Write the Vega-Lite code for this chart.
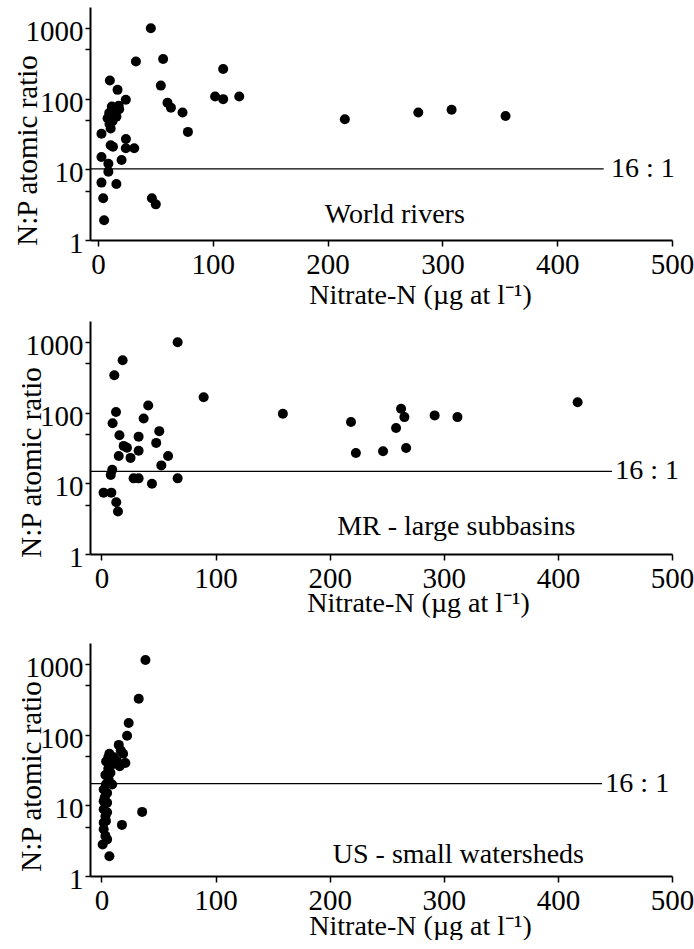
{
  "$schema": "https://vega.github.io/schema/vega-lite/v6.json",
  "background": "white",
  "padding": {"left": 12, "top": 7, "right": 0, "bottom": 0},
  "config": {
    "font": "Liberation Serif",
    "view": {"stroke": null},
    "axis": {
      "grid": false,
      "domainColor": "black",
      "domainWidth": 2,
      "tickColor": "black",
      "tickWidth": 1.5,
      "labelFont": "Liberation Serif",
      "labelFontSize": 29,
      "labelColor": "black",
      "labelFlush": false,
      "labelOverlap": false,
      "titleFont": "Liberation Serif",
      "titleFontSize": 28,
      "titleFontWeight": "normal",
      "titleColor": "black"
    },
    "axisY": {"titleFontSize": 29},
    "text": {"font": "Liberation Serif", "fontSize": 28, "color": "black"}
  },
  "datasets": {
    "p1": [
      {"nitrate": 46, "np": 1000}, {"nitrate": 33, "np": 338}, {"nitrate": 56.7, "np": 366},
      {"nitrate": 10.3, "np": 182}, {"nitrate": 17, "np": 134}, {"nitrate": 54.7, "np": 154},
      {"nitrate": 24.2, "np": 97}, {"nitrate": 60.5, "np": 88}, {"nitrate": 63.5, "np": 75},
      {"nitrate": 73.6, "np": 64}, {"nitrate": 78.3, "np": 34}, {"nitrate": 102, "np": 108},
      {"nitrate": 109, "np": 99}, {"nitrate": 109, "np": 264}, {"nitrate": 123, "np": 108},
      {"nitrate": 215, "np": 51.5}, {"nitrate": 279, "np": 64}, {"nitrate": 308, "np": 70},
      {"nitrate": 355, "np": 57}, {"nitrate": 12, "np": 78}, {"nitrate": 18.4, "np": 71},
      {"nitrate": 9.7, "np": 63}, {"nitrate": 14, "np": 59}, {"nitrate": 8.3, "np": 53},
      {"nitrate": 12.6, "np": 48}, {"nitrate": 11, "np": 38}, {"nitrate": 3, "np": 32},
      {"nitrate": 24.3, "np": 27}, {"nitrate": 11, "np": 22}, {"nitrate": 13, "np": 21},
      {"nitrate": 24.2, "np": 20}, {"nitrate": 31.5, "np": 20}, {"nitrate": 20.5, "np": 13.6},
      {"nitrate": 3, "np": 15}, {"nitrate": 9, "np": 12}, {"nitrate": 9, "np": 9.3},
      {"nitrate": 3, "np": 6.5}, {"nitrate": 16, "np": 6.2}, {"nitrate": 4.5, "np": 3.9},
      {"nitrate": 5.3, "np": 1.9}, {"nitrate": 46.9, "np": 3.9}, {"nitrate": 50.3, "np": 3.2},
      {"nitrate": 12, "np": 68}, {"nitrate": 16, "np": 56}, {"nitrate": 10, "np": 44},
      {"nitrate": 18, "np": 80}
    ],
    "p2": [
      {"nitrate": 66.8, "np": 1000}, {"nitrate": 18.6, "np": 555}, {"nitrate": 11.3, "np": 340},
      {"nitrate": 89.6, "np": 166}, {"nitrate": 12.8, "np": 103}, {"nitrate": 9.8, "np": 71},
      {"nitrate": 41, "np": 127}, {"nitrate": 37, "np": 83}, {"nitrate": 15.8, "np": 48},
      {"nitrate": 32.6, "np": 46}, {"nitrate": 50.7, "np": 55}, {"nitrate": 48, "np": 37.5},
      {"nitrate": 19.5, "np": 34}, {"nitrate": 22.4, "np": 32}, {"nitrate": 32.6, "np": 29},
      {"nitrate": 15.2, "np": 24.5}, {"nitrate": 25.5, "np": 23}, {"nitrate": 58.4, "np": 24.5},
      {"nitrate": 52.5, "np": 18}, {"nitrate": 9.5, "np": 15.6}, {"nitrate": 8.2, "np": 13.2},
      {"nitrate": 28.2, "np": 11.8}, {"nitrate": 32.6, "np": 11.8}, {"nitrate": 44.3, "np": 9.9},
      {"nitrate": 66.8, "np": 11.8}, {"nitrate": 1.9, "np": 7.4}, {"nitrate": 8.7, "np": 7.4},
      {"nitrate": 13, "np": 5.4}, {"nitrate": 14.5, "np": 4.0}, {"nitrate": 159, "np": 97},
      {"nitrate": 218.7, "np": 74}, {"nitrate": 223, "np": 27}, {"nitrate": 246.8, "np": 28.5},
      {"nitrate": 258.2, "np": 61}, {"nitrate": 262.6, "np": 114}, {"nitrate": 265.5, "np": 87},
      {"nitrate": 267, "np": 31.7}, {"nitrate": 292, "np": 92}, {"nitrate": 312, "np": 87},
      {"nitrate": 417.3, "np": 141}
    ],
    "p3": [
      {"nitrate": 38.6, "np": 1150}, {"nitrate": 32.7, "np": 324}, {"nitrate": 23.9, "np": 147},
      {"nitrate": 22.5, "np": 97}, {"nitrate": 15.2, "np": 72}, {"nitrate": 19, "np": 54},
      {"nitrate": 7, "np": 54}, {"nitrate": 21, "np": 40}, {"nitrate": 13.8, "np": 42},
      {"nitrate": 4.1, "np": 42}, {"nitrate": 9.4, "np": 38}, {"nitrate": 3.5, "np": 27},
      {"nitrate": 7.9, "np": 29}, {"nitrate": 6.4, "np": 23}, {"nitrate": 9.4, "np": 19.8},
      {"nitrate": 2, "np": 16.8}, {"nitrate": 5, "np": 15}, {"nitrate": 2, "np": 11.5},
      {"nitrate": 5, "np": 10.9}, {"nitrate": 2, "np": 8.8}, {"nitrate": 3.5, "np": 7},
      {"nitrate": 2, "np": 5.7}, {"nitrate": 2, "np": 4.6}, {"nitrate": 3.5, "np": 3.7},
      {"nitrate": 1.1, "np": 2.8}, {"nitrate": 7, "np": 1.9}, {"nitrate": 18, "np": 5.3},
      {"nitrate": 35.7, "np": 8.1}, {"nitrate": 17, "np": 60}, {"nitrate": 11, "np": 48},
      {"nitrate": 16, "np": 36}, {"nitrate": 6, "np": 33}, {"nitrate": 4, "np": 20},
      {"nitrate": 3, "np": 13}, {"nitrate": 5, "np": 8}, {"nitrate": 4, "np": 6},
      {"nitrate": 5, "np": 3.3}, {"nitrate": 6, "np": 48}
    ]
  },
  "spacing": 12,
  "vconcat": [
    {
      "width": 582, "height": 233,
      "layer": [
        {
          "data": {"name": "p1"},
          "mark": {"type": "circle", "size": 100, "color": "black", "opacity": 1},
          "encoding": {
            "x": {"field": "nitrate", "type": "quantitative",
              "scale": {"domain": [-7, 500], "nice": false, "zero": false},
              "axis": {"title": "Nitrate-N (µg at l⁻¹)", "values": [0, 100, 200, 300, 400, 500], "format": "d",
                "tickSize": 6, "labelPadding": 4, "titleX": 330, "titleY": 63, "titleBaseline": "alphabetic", "titleAlign": "center"}},
            "y": {"field": "np", "type": "quantitative",
              "scale": {"type": "log", "domain": [1, 2000], "nice": false},
              "axis": {"title": "N:P atomic ratio", "values": [1, 5, 10, 50, 100, 500, 1000], "format": "d",
                "labelExpr": "(datum.value == 1 || datum.value == 10 || datum.value == 100 || datum.value == 1000) ? datum.label : ''",
                "tickSize": 5, "labelPadding": 2, "labelOffset": 3.5,
                "titleX": -54, "titleY": 143, "titleAngle": 270, "titleBaseline": "alphabetic", "titleAlign": "center"}}
          }
        },
        {
          "data": {"values": [{"from": -7, "to": 440.5, "np": 10.2}]},
          "mark": {"type": "rule", "color": "black", "strokeWidth": 1.3},
          "encoding": {
            "x": {"field": "from", "type": "quantitative", "scale": {"domain": [-7, 500], "nice": false, "zero": false}},
            "x2": {"field": "to"},
            "y": {"field": "np", "type": "quantitative", "scale": {"type": "log", "domain": [1, 2000], "nice": false}}
          }
        },
        {
          "data": {"values": [{"nitrate": 446.8, "np": 10.2, "label": "16 : 1"}]},
          "mark": {"type": "text", "baseline": "middle", "align": "left"},
          "encoding": {
            "x": {"field": "nitrate", "type": "quantitative", "scale": {"domain": [-7, 500], "nice": false, "zero": false}},
            "y": {"field": "np", "type": "quantitative", "scale": {"type": "log", "domain": [1, 2000], "nice": false}},
            "text": {"field": "label"}
          }
        },
        {
          "data": {"values": [{"nitrate": 258.5, "np": 2.23, "label": "World rivers"}]},
          "mark": {"type": "text", "baseline": "middle", "align": "center"},
          "encoding": {
            "x": {"field": "nitrate", "type": "quantitative", "scale": {"domain": [-7, 500], "nice": false, "zero": false}},
            "y": {"field": "np", "type": "quantitative", "scale": {"type": "log", "domain": [1, 2000], "nice": false}},
            "text": {"field": "label"}
          }
        }
      ]
    },
    {
      "spacing": 26,
      "vconcat": [
        {
          "width": 582, "height": 233,
          "layer": [
            {
              "data": {"name": "p2"},
              "mark": {"type": "circle", "size": 100, "color": "black", "opacity": 1},
              "encoding": {
                "x": {"field": "nitrate", "type": "quantitative",
                  "scale": {"domain": [-10, 500], "nice": false, "zero": false},
                  "axis": {"title": "Nitrate-N (µg at l⁻¹)", "values": [0, 100, 200, 300, 400, 500], "format": "d",
                    "tickSize": 6, "labelPadding": 4, "titleX": 328, "titleY": 57, "titleBaseline": "alphabetic", "titleAlign": "center"}},
                "y": {"field": "np", "type": "quantitative",
                  "scale": {"type": "log", "domain": [1, 2000], "nice": false},
                  "axis": {"title": "N:P atomic ratio", "values": [1, 5, 10, 50, 100, 500, 1000], "format": "d",
                    "labelExpr": "(datum.value == 1 || datum.value == 10 || datum.value == 100 || datum.value == 1000) ? datum.label : ''",
                    "tickSize": 5, "labelPadding": 2, "labelOffset": 3.5,
                    "titleX": -49.3, "titleY": 141, "titleAngle": 270, "titleBaseline": "alphabetic", "titleAlign": "center"}}
              }
            },
            {
              "data": {"values": [{"from": -10, "to": 447.4, "np": 14.8}]},
              "mark": {"type": "rule", "color": "black", "strokeWidth": 1.3},
              "encoding": {
                "x": {"field": "from", "type": "quantitative", "scale": {"domain": [-10, 500], "nice": false, "zero": false}},
                "x2": {"field": "to"},
                "y": {"field": "np", "type": "quantitative", "scale": {"type": "log", "domain": [1, 2000], "nice": false}}
              }
            },
            {
              "data": {"values": [{"nitrate": 450.3, "np": 14.8, "label": "16 : 1"}]},
              "mark": {"type": "text", "baseline": "middle", "align": "left"},
              "encoding": {
                "x": {"field": "nitrate", "type": "quantitative", "scale": {"domain": [-10, 500], "nice": false, "zero": false}},
                "y": {"field": "np", "type": "quantitative", "scale": {"type": "log", "domain": [1, 2000], "nice": false}},
                "text": {"field": "label"}
              }
            },
            {
              "data": {"values": [{"nitrate": 311, "np": 2.45, "label": "MR - large subbasins"}]},
              "mark": {"type": "text", "baseline": "middle", "align": "center"},
              "encoding": {
                "x": {"field": "nitrate", "type": "quantitative", "scale": {"domain": [-10, 500], "nice": false, "zero": false}},
                "y": {"field": "np", "type": "quantitative", "scale": {"type": "log", "domain": [1, 2000], "nice": false}},
                "text": {"field": "label"}
              }
            }
          ]
        },
        {
          "width": 582, "height": 233,
          "layer": [
            {
              "data": {"name": "p3"},
              "mark": {"type": "circle", "size": 100, "color": "black", "opacity": 1},
              "encoding": {
                "x": {"field": "nitrate", "type": "quantitative",
                  "scale": {"domain": [-10, 500], "nice": false, "zero": false},
                  "axis": {"title": "Nitrate-N (µg at l⁻¹)", "values": [0, 100, 200, 300, 400, 500], "format": "d",
                    "tickSize": 6, "labelPadding": 4, "titleX": 330, "titleY": 58, "titleBaseline": "alphabetic", "titleAlign": "center"}},
                "y": {"field": "np", "type": "quantitative",
                  "scale": {"type": "log", "domain": [1, 2000], "nice": false},
                  "axis": {"title": "N:P atomic ratio", "values": [1, 5, 10, 50, 100, 500, 1000], "format": "d",
                    "labelExpr": "(datum.value == 1 || datum.value == 10 || datum.value == 100 || datum.value == 1000) ? datum.label : ''",
                    "tickSize": 5, "labelPadding": 2, "labelOffset": 3.5,
                    "titleX": -49.3, "titleY": 133, "titleAngle": 270, "titleBaseline": "alphabetic", "titleAlign": "center"}}
              }
            },
            {
              "data": {"values": [{"from": -10, "to": 438.7, "np": 20.4}]},
              "mark": {"type": "rule", "color": "black", "strokeWidth": 1.3},
              "encoding": {
                "x": {"field": "from", "type": "quantitative", "scale": {"domain": [-10, 500], "nice": false, "zero": false}},
                "x2": {"field": "to"},
                "y": {"field": "np", "type": "quantitative", "scale": {"type": "log", "domain": [1, 2000], "nice": false}}
              }
            },
            {
              "data": {"values": [{"nitrate": 441.6, "np": 20.4, "label": "16 : 1"}]},
              "mark": {"type": "text", "baseline": "middle", "align": "left"},
              "encoding": {
                "x": {"field": "nitrate", "type": "quantitative", "scale": {"domain": [-10, 500], "nice": false, "zero": false}},
                "y": {"field": "np", "type": "quantitative", "scale": {"type": "log", "domain": [1, 2000], "nice": false}},
                "text": {"field": "label"}
              }
            },
            {
              "data": {"values": [{"nitrate": 312.8, "np": 2.01, "label": "US - small watersheds"}]},
              "mark": {"type": "text", "baseline": "middle", "align": "center"},
              "encoding": {
                "x": {"field": "nitrate", "type": "quantitative", "scale": {"domain": [-10, 500], "nice": false, "zero": false}},
                "y": {"field": "np", "type": "quantitative", "scale": {"type": "log", "domain": [1, 2000], "nice": false}},
                "text": {"field": "label"}
              }
            }
          ]
        }
      ]
    }
  ]
}
